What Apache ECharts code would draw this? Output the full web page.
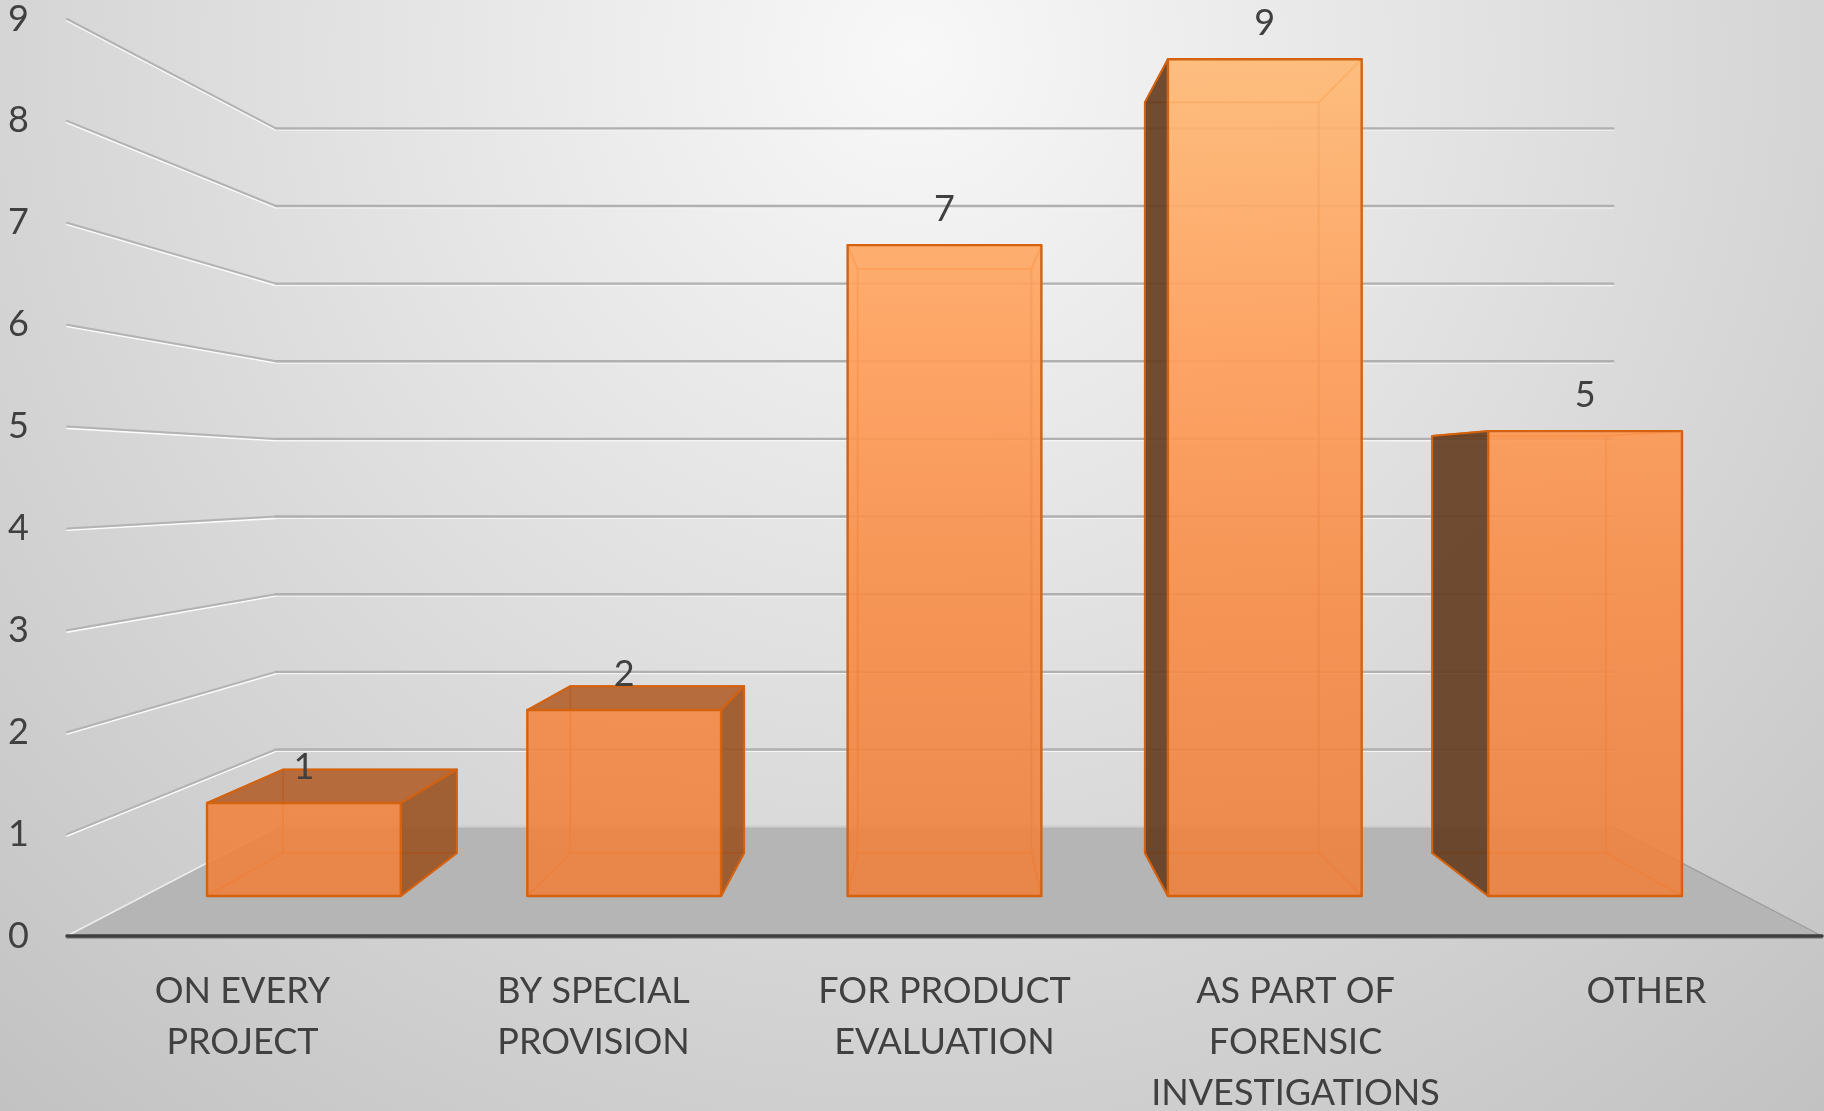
<!DOCTYPE html>
<html>
<head>
<meta charset="utf-8">
<script src="https://cdn.jsdelivr.net/npm/echarts@6/dist/echarts.min.js"></script>
<style>
  html, body { margin: 0; padding: 0; }
  #chart { width: 1824px; height: 1111px; }
</style>
</head>
<body>
<div id="chart"></div>
<script>
// Survey answers and their counts
const categories = [
  'ON EVERY\nPROJECT',
  'BY SPECIAL\nPROVISION',
  'FOR PRODUCT\nEVALUATION',
  'AS PART OF\nFORENSIC\nINVESTIGATIONS',
  'OTHER'
];
const counts = [1, 2, 7, 9, 5];
const valueTicks = [0, 1, 2, 3, 4, 5, 6, 7, 8, 9];

// Pseudo-3D view: one-point perspective toward the centre of the plot
const EYE_VALUE = 4.49;        // horizon height, in axis units
const DEPTH = 0.3123;          // foreshortening from front to back wall
const BAR_Z = [0.307, 0.71];   // bar front / back depth as a fraction of floor depth
const BAR_WIDTH = 0.605;       // share of the category band
const FONT = 'Lato, "Open Sans", sans-serif';
const FONT_SIZE = 36;
const TEXT = '#404040';

function makeView(params, api) {
  const cs = params.coordSys;
  const vx = cs.x + cs.width / 2;
  const vy = api.coord([0, EYE_VALUE])[1];
  const project = function (x, y, z) {
    const s = 1 / (1 + DEPTH * z);
    return [vx + (x - vx) * s, vy + (y - vy) * s];
  };
  project.vx = vx;
  project.vy = vy;
  return project;
}

function seg(a, b, color, width) {
  return {
    type: 'line',
    shape: { x1: a[0], y1: a[1], x2: b[0], y2: b[1] },
    style: { stroke: color, lineWidth: width, lineCap: 'round' },
    silent: true
  };
}

function shift(p, dy) { return [p[0], p[1] + dy]; }

// Floor, side wall and back wall gridlines
function renderWalls(params, api) {
  const cs = params.coordSys;
  const P = makeView(params, api);
  const v = api.value(1);
  const y = api.coord([0, v])[1];
  const x0 = cs.x, x1 = cs.x + cs.width;
  const children = [];
  if (v === 0) {
    const fl = [x0, y], bl = P(x0, y, 1), br = P(x1, y, 1), fr = [x1, y];
    children.push({
      type: 'polygon', shape: { points: [fl, bl, br, fr] },
      style: { fill: '#b5b5b5' }, silent: true
    });
    children.push(seg(shift(bl, -1), shift(br, -1), '#cfcfcf', 2));
    children.push(seg(fl, bl, '#eeeeee', 1.6));
    children.push(seg(br, fr, '#9c9c9c', 1.2));
    children.push(seg(shift(fl, 2), shift(fr, 2), '#9a9a9a', 2));
    children.push(seg(fl, fr, '#3f3f3f', 3.5));
  } else {
    const a = [x0, y], b = P(x0, y, 1), c = P(x1, y, 1);
    children.push(seg(shift(a, 1.8), shift(b, 1.8), '#fbfbfb', 1.6));
    children.push(seg(shift(b, 1.8), shift(c, 1.8), '#f4f4f4', 1.4));
    children.push(seg(a, b, '#b3b3b3', 2));
    children.push(seg(b, c, '#b0b0b0', 2.4));
  }
  return { type: 'group', children: children };
}

// Transparent orange boxes with their value on top
function renderBar(params, api) {
  const cs = params.coordSys;
  const P = makeView(params, api);
  const i = api.value(0), v = api.value(1);
  const top = api.coord([i, v]);
  const base = api.coord([i, 0]);
  const hw = api.size([1, 0])[0] * BAR_WIDTH / 2;
  const xl = top[0] - hw, xr = top[0] + hw, yt = top[1], yb = base[1];
  const zf = BAR_Z[0], zb = BAR_Z[1];
  const F = { lt: P(xl, yt, zf), rt: P(xr, yt, zf), rb: P(xr, yb, zf), lb: P(xl, yb, zf) };
  const B = { lt: P(xl, yt, zb), rt: P(xr, yt, zb), rb: P(xr, yb, zb), lb: P(xl, yb, zb) };
  const edge = '#d4620f';
  const hidden = '#dc6d22';
  const children = [];

  // edges seen through the faces
  children.push({
    type: 'polygon', shape: { points: [B.lt, B.rt, B.rb, B.lb] },
    style: { fill: 'none', stroke: hidden, lineWidth: 1.8 }, silent: true
  });
  ['lt', 'rt', 'rb', 'lb'].forEach(function (k) {
    children.push(seg(F[k], B[k], hidden, 1.8));
  });

  if (xr < P.vx) {
    children.push({
      type: 'polygon', shape: { points: [F.rt, B.rt, B.rb, F.rb] },
      style: { fill: 'rgba(155,82,34,0.9)', stroke: edge, lineWidth: 2, lineJoin: 'round' }, silent: true
    });
  }
  if (xl > P.vx) {
    children.push({
      type: 'polygon', shape: { points: [F.lt, B.lt, B.lb, F.lb] },
      style: { fill: 'rgba(101,63,34,0.92)', stroke: edge, lineWidth: 2, lineJoin: 'round' }, silent: true
    });
  }
  if (yt > P.vy) {
    children.push({
      type: 'polygon', shape: { points: [F.lt, F.rt, B.rt, B.lt] },
      style: { fill: 'rgba(179,95,43,0.9)', stroke: edge, lineWidth: 2, lineJoin: 'round' }, silent: true
    });
  }

  const grad = new echarts.graphic.LinearGradient(0, cs.y, 0, cs.y + cs.height, [
    { offset: 0.04, color: 'rgba(255,185,115,0.9)' },
    { offset: 0.36, color: 'rgba(255,157,88,0.9)' },
    { offset: 0.63, color: 'rgba(247,140,70,0.9)' },
    { offset: 0.95, color: 'rgba(238,129,62,0.9)' }
  ], true);
  children.push({
    type: 'polygon', shape: { points: [F.lt, F.rt, F.rb, F.lb] },
    style: { fill: grad, stroke: edge, lineWidth: 2.4, lineJoin: 'round' }, silent: true
  });

  const lp = P(top[0], yt, zf);
  children.push({
    type: 'text', x: lp[0], y: lp[1] - 36, silent: true,
    style: {
      text: String(v), fill: TEXT, font: FONT_SIZE + 'px ' + FONT,
      align: 'center', verticalAlign: 'middle'
    }
  });
  return { type: 'group', children: children };
}

const chart = echarts.init(document.getElementById('chart'), null, { renderer: 'canvas' });
chart.setOption({
  animation: false,
  backgroundColor: {
    type: 'radial', x: 0.5, y: 0.05, r: 1.3,
    colorStops: [
      { offset: 0, color: '#f8f8f8' },
      { offset: 1, color: '#c0c0c0' }
    ]
  },
  grid: { left: 67, right: 2, top: 19, bottom: 175, containLabel: false, outerBoundsMode: 'none' },
  xAxis: {
    type: 'category',
    data: categories,
    axisLine: { show: false },
    axisTick: { show: false },
    splitLine: { show: false },
    axisLabel: {
      interval: 0, margin: 30, color: TEXT,
      fontFamily: FONT, fontSize: FONT_SIZE, lineHeight: 51
    }
  },
  yAxis: {
    type: 'value', min: 0, max: 9, interval: 1,
    axisLine: { show: false },
    axisTick: { show: false },
    splitLine: { show: false },
    axisLabel: { margin: 38, color: TEXT, fontFamily: FONT, fontSize: FONT_SIZE }
  },
  series: [
    {
      type: 'custom',
      name: 'walls',
      renderItem: renderWalls,
      data: valueTicks.map(function (t) { return [0, t]; }),
      encode: { x: 0, y: 1 },
      silent: true,
      z: 1
    },
    {
      type: 'custom',
      name: 'count',
      renderItem: renderBar,
      data: counts.map(function (c, i) { return [i, c]; }),
      encode: { x: 0, y: 1 },
      silent: true,
      z: 2
    }
  ]
});
</script>
</body>
</html>
